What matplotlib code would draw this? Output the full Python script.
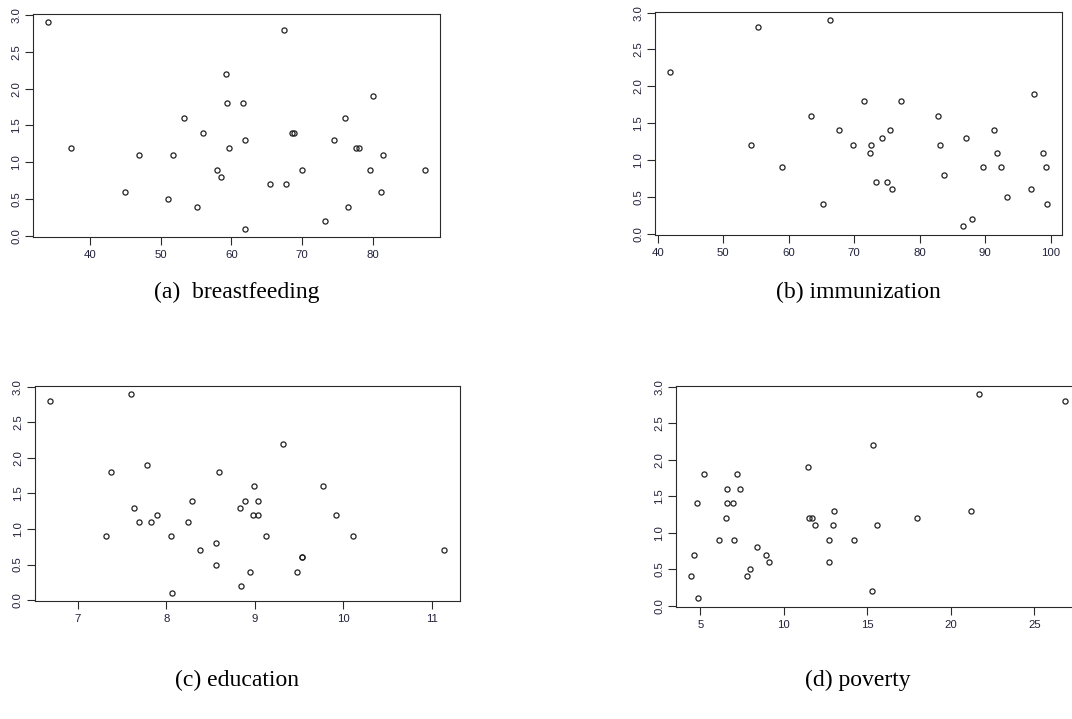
import numpy as np
import matplotlib
matplotlib.use("Agg")
import matplotlib.pyplot as plt

# values (same response on the y axis)
breastfeeding_x = [34.06, 37.26, 46.93, 44.95, 51.65, 50.94, 53.3, 55.9, 55.1, 59.25,
                   59.34, 61.6, 61.93, 59.67, 58.0, 58.5, 61.93, 67.39, 68.6, 68.9,
                   74.55, 76.1, 80.0, 77.7, 78.0, 81.4, 70.0, 79.67, 87.4, 65.4,
                   67.77, 81.18, 76.45, 73.2]
breastfeeding_y = [2.9, 1.2, 1.1, 0.6, 1.1, 0.5, 1.6, 1.4, 0.4, 2.2,
                   1.8, 1.8, 1.3, 1.2, 0.9, 0.8, 0.1, 2.8, 1.4, 1.4,
                   1.3, 1.6, 1.9, 1.2, 1.2, 1.1, 0.9, 0.9, 0.9, 0.7,
                   0.7, 0.6, 0.4, 0.2]

immunization_x = [41.93, 55.33, 54.16, 58.98, 63.45, 65.23, 66.33, 67.7, 69.74, 71.43,
                  72.55, 72.45, 73.27, 74.23, 75.41, 75.0, 75.77, 77.19, 82.8, 83.06,
                  83.67, 86.99, 86.53, 87.96, 89.59, 91.38, 91.79, 92.4, 93.32, 96.89,
                  97.45, 98.83, 99.18, 99.44]
immunization_y = [2.2, 2.8, 1.2, 0.9, 1.6, 0.4, 2.9, 1.4, 1.2, 1.8,
                  1.2, 1.1, 0.7, 1.3, 1.4, 0.7, 0.6, 1.8, 1.6, 1.2,
                  0.8, 1.3, 0.1, 0.2, 0.9, 1.4, 1.1, 0.9, 0.5, 0.6,
                  1.9, 1.1, 0.9, 0.4]

education_x = [6.69, 7.60, 7.37, 7.78, 7.32, 7.63, 7.69, 7.83, 7.89, 8.05,
               8.06, 8.24, 8.29, 8.38, 8.56, 8.56, 8.59, 8.83, 8.89, 8.84,
               9.32, 8.99, 9.77, 9.04, 8.98, 9.04, 9.92, 9.13, 10.11, 11.14,
               9.53, 9.53, 8.94, 9.48]
education_y = [2.8, 2.9, 1.8, 1.9, 0.9, 1.3, 1.1, 1.1, 1.2, 0.9,
               0.1, 1.1, 1.4, 0.7, 0.8, 0.5, 1.8, 1.3, 1.4, 0.2,
               2.2, 1.6, 1.6, 1.4, 1.2, 1.2, 1.2, 0.9, 0.9, 0.7,
               0.6, 0.6, 0.4, 0.4]

poverty_x = [4.44, 4.64, 4.8, 4.84, 5.24, 6.14, 6.52, 6.62, 6.62, 6.98,
             7.02, 7.22, 7.38, 7.78, 7.98, 8.42, 8.96, 9.12, 11.44, 11.52,
             11.7, 11.86, 12.73, 12.73, 12.93, 13.01, 14.18, 15.36, 15.26, 15.58,
             17.95, 21.2, 21.71, 26.85]
poverty_y = [0.4, 0.7, 1.4, 0.1, 1.8, 0.9, 1.2, 1.6, 1.4, 1.4,
             0.9, 1.8, 1.6, 0.4, 0.5, 0.8, 0.7, 0.6, 1.9, 1.2,
             1.2, 1.1, 0.9, 0.6, 1.1, 1.3, 0.9, 2.2, 0.2, 1.1,
             1.2, 1.3, 2.9, 2.8]

breastfeeding_ticks = [40, 50, 60, 70, 80]
immunization_ticks = [40, 50, 60, 70, 80, 90, 100]
education_ticks = [7, 8, 9, 10, 11]
poverty_ticks = [5, 10, 15, 20, 25]
y_ticks = [0.0, 0.5, 1.0, 1.5, 2.0, 2.5, 3.0]

captions = ["(a)  breastfeeding", "(b) immunization", "(c) education", "(d) poverty"]

W, H = 1072, 719
fig = plt.figure(figsize=(W / 100, H / 100), dpi=100)
fig.patch.set_facecolor("white")


def r_lim(vals):
    # R pads the data range by 4% on each side
    lo, hi = min(vals), max(vals)
    pad = 0.04 * (hi - lo)
    return lo - pad, hi + pad


def panel(left, top, right, bottom, xs, ys, xticks):
    ax = fig.add_axes([left / W, 1 - bottom / H, (right - left) / W, (bottom - top) / H])
    ax.plot(xs, ys, linestyle="none", marker="o", ms=3.7, mfc="none",
            mec="#222222", mew=0.9)
    ax.set_xlim(r_lim(xs))
    ax.set_ylim(r_lim(ys))
    ax.set_xticks(xticks)
    ax.set_xticklabels([str(t) for t in xticks])
    ax.set_yticks(y_ticks)
    ax.set_yticklabels([f"{t:.1f}" for t in y_ticks], rotation=90, va="center")
    for sp in ax.spines.values():
        sp.set_color("#2a2a2a")
        sp.set_linewidth(0.8)
    ax.tick_params(direction="out", length=5.5, width=0.8, color="#2a2a2a",
                   labelsize=8.2, labelcolor="#20203a")
    ax.tick_params(axis="x", pad=4)
    ax.tick_params(axis="y", pad=3)
    for lab in ax.get_xticklabels() + ax.get_yticklabels():
        lab.set_fontfamily("Liberation Sans")
    return ax


panel(33.3, 14, 440, 237, breastfeeding_x, breastfeeding_y, breastfeeding_ticks)
panel(655.3, 11.7, 1062.3, 234.5, immunization_x, immunization_y, immunization_ticks)
panel(34.7, 386, 460, 601, education_x, education_y, education_ticks)
panel(676, 385.7, 1080.3, 606.5, poverty_x, poverty_y, poverty_ticks)

cap_pos = [(237, 292), (858, 292), (237, 680), (858, 680)]
for (cx, cy), txt in zip(cap_pos, captions):
    fig.text(cx / W, 1 - cy / H, txt, ha="center", va="center",
             fontsize=17, fontfamily="Liberation Serif", color="black")

fig.savefig("out.png", dpi=100, facecolor="white")
